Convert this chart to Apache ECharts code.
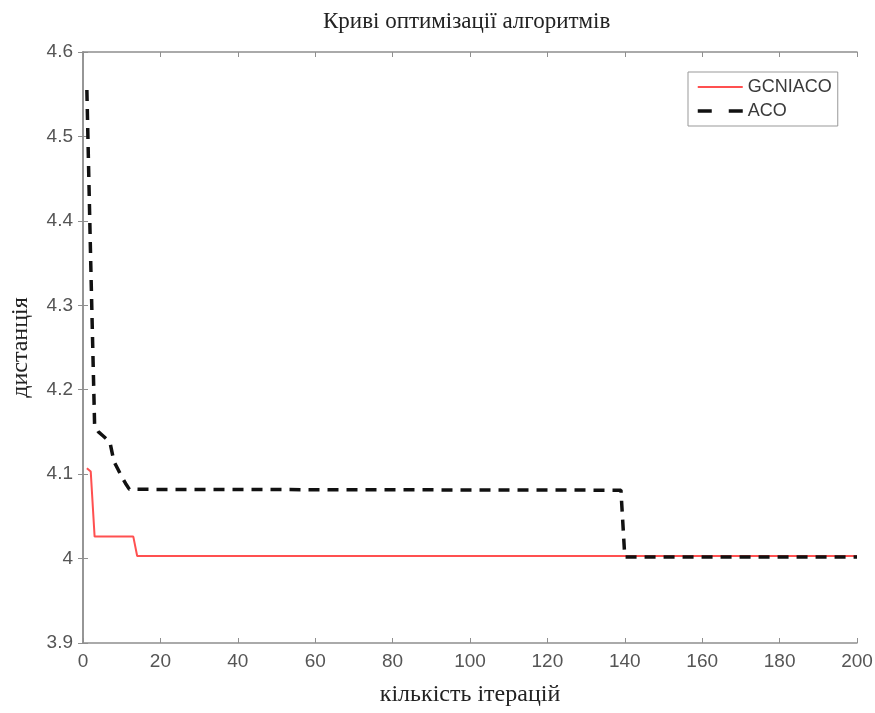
<!DOCTYPE html>
<html>
<head>
<meta charset="utf-8">
<script src="https://cdn.jsdelivr.net/npm/echarts@6/dist/echarts.min.js"></script>
<style>
  html, body { margin: 0; padding: 0; background: #fff; }
  #chart { width: 875px; height: 713px; }
</style>
</head>
<body>
<div id="chart"></div>
<script>
// дані кривих (ітерація -> дистанція)
var gcnIter = [1, 2, 3, 13, 14, 200];
var gcnDist = [4.107, 4.103, 4.026, 4.026, 4.003, 4.003];

var acoIter = [1, 2, 3, 4, 5, 6, 7, 8, 9, 10, 11, 12, 139, 140, 200];
var acoDist = [4.555, 4.35, 4.158, 4.15, 4.146, 4.142, 4.137, 4.115, 4.106, 4.097, 4.089, 4.082, 4.081, 4.002, 4.002];

var xTicks = { min: 0, max: 200, step: 20 };
var yTicks = { min: 3.9, max: 4.6, step: 0.1 };

function pairs(xs, ys) {
  return xs.map(function (x, i) { return [x, ys[i]]; });
}

var myChart = echarts.init(document.getElementById('chart'));

var frameLine = { show: true, lineStyle: { color: '#8f8f8f', width: 1.5 } };
var inTick = { show: true, inside: true, length: 5, lineStyle: { color: '#8f8f8f', width: 1 } };
var tickLabel = { color: '#555', fontSize: 19, fontFamily: 'Liberation Sans, Arial, sans-serif' };
var serif = 'Liberation Serif, Times New Roman, serif';

var option = {
  animation: false,
  backgroundColor: '#fff',
  title: {
    text: 'Криві оптимізації алгоритмів',
    left: 318,
    top: 5,
    textStyle: { fontFamily: serif, fontWeight: 'normal', fontSize: 23, color: '#222' }
  },
  legend: {
    left: 688,
    top: 72,
    orient: 'vertical',
    itemWidth: 45,
    itemHeight: 14,
    itemGap: 6,
    padding: [6, 6, 6, 8],
    borderColor: '#999',
    borderWidth: 1,
    itemStyle: { opacity: 0 },
    textStyle: { fontFamily: 'Liberation Sans, Arial, sans-serif', fontSize: 18, color: '#3a3a3a' },
    data: [
      { name: 'GCNIACO', lineStyle: { width: 2 } },
      { name: 'ACO', lineStyle: { width: 3.5, type: [14, 17] } }
    ]
  },
  grid: { left: 83, right: 18, top: 52, bottom: 70, outerBoundsMode: 'none' },
  xAxis: [
    {
      type: 'value',
      min: xTicks.min, max: xTicks.max, interval: xTicks.step,
      name: 'кількість ітерацій',
      nameLocation: 'middle',
      nameGap: 40,
      nameTextStyle: { fontFamily: serif, fontSize: 24, color: '#222' },
      axisLine: frameLine,
      axisTick: inTick,
      axisLabel: Object.assign({ margin: 9 }, tickLabel),
      splitLine: { show: false }
    },
    {
      type: 'value', position: 'top',
      min: xTicks.min, max: xTicks.max, interval: xTicks.step,
      axisLine: frameLine, axisTick: inTick,
      axisLabel: { show: false }, splitLine: { show: false }
    }
  ],
  yAxis: [
    {
      type: 'value',
      min: yTicks.min, max: yTicks.max, interval: yTicks.step,
      name: 'дистанція',
      nameLocation: 'middle',
      nameGap: 50,
      nameRotate: 90,
      nameTextStyle: { fontFamily: serif, fontSize: 24, color: '#222' },
      axisLine: frameLine,
      axisTick: inTick,
      axisLabel: Object.assign({
        margin: 10,
        formatter: function (v) { return String(+v.toFixed(1)); }
      }, tickLabel),
      splitLine: { show: false }
    },
    {
      type: 'value', position: 'right',
      min: yTicks.min, max: yTicks.max, interval: yTicks.step,
      axisLine: frameLine, axisTick: inTick,
      axisLabel: { show: false }, splitLine: { show: false }
    }
  ],
  series: [
    {
      name: 'GCNIACO',
      type: 'line',
      data: pairs(gcnIter, gcnDist),
      showSymbol: false,
      symbol: 'none',
      z: 3,
      itemStyle: { color: '#ff5050' },
      lineStyle: { color: '#ff5050', width: 2 }
    },
    {
      name: 'ACO',
      type: 'line',
      data: pairs(acoIter, acoDist),
      showSymbol: false,
      symbol: 'none',
      z: 4,
      itemStyle: { color: '#111' },
      lineStyle: { color: '#111', width: 3.5, type: [11, 8] }
    }
  ]
};

myChart.setOption(option);
</script>
</body>
</html>
